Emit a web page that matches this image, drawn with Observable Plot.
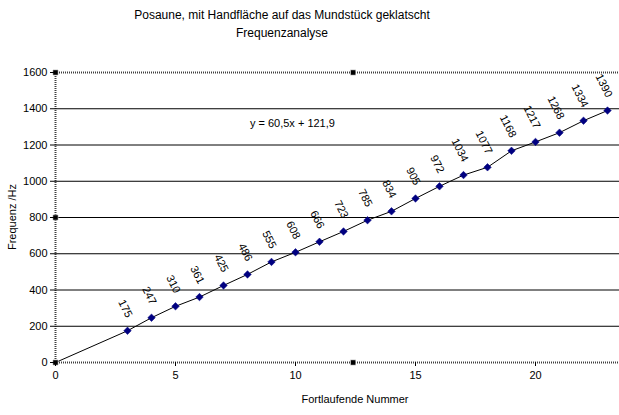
<!DOCTYPE html>
<html>
<head>
<meta charset="utf-8">
<script src="https://cdn.jsdelivr.net/npm/d3@7"></script>
<script src="https://cdn.jsdelivr.net/npm/@observablehq/plot@0.6"></script>
<style>
  html, body { margin: 0; padding: 0; background: #fff; }
  #wrap { position: relative; width: 619px; height: 415px; overflow: hidden; font-family: "Liberation Sans", Arial, sans-serif; color: #000; }
  #wrap svg { position: absolute; left: 0; top: 0; }
  .t { position: absolute; white-space: nowrap; font-size: 12px; }
</style>
</head>
<body>
<div id="wrap">
  <div class="t" id="title1" style="left:282px; top:8px; transform:translateX(-50%);">Posaune, mit Handfläche auf das Mundstück geklatscht</div>
  <div class="t" id="title2" style="left:282px; top:26px; transform:translateX(-50%);">Frequenzanalyse</div>
  <div class="t" id="xlab" style="left:355px; top:393px; transform:translateX(-50%); font-size:11px;">Fortlaufende Nummer</div>
  <div class="t" id="ylab" style="left:12px; top:217px; transform:translate(-50%,-50%) rotate(-90deg); font-size:11px;">Frequenz /Hz</div>
</div>
<script>
// Data
const nummer   = [3, 4, 5, 6, 7, 8, 9, 10, 11, 12, 13, 14, 15, 16, 17, 18, 19, 20, 21, 22, 23];
const frequenz = [175, 247, 310, 361, 425, 486, 555, 608, 666, 723, 785, 834, 905, 972, 1034, 1077, 1168, 1217, 1268, 1334, 1390];
const xTicks = [0, 5, 10, 15, 20];
const yTicks = [0, 200, 400, 600, 800, 1000, 1200, 1400, 1600];
const equation = "y = 60,5x + 121,9";
const equationPos = {x: 8.1, y: 1318};
const origin = {nummer: 0, frequenz: 0};

const points = nummer.map((n, i) => ({nummer: n, frequenz: frequenz[i]}));
const linePts = [origin, ...points];
const gridLines = yTicks.filter(v => v !== 0 && v !== 1600);
const borderLines = [yTicks[0], yTicks[yTicks.length - 1]];
const handles = [
  {nummer: 0, frequenz: 0}, {nummer: 0, frequenz: 800}, {nummer: 0, frequenz: 1600},
  {nummer: 12.4, frequenz: 0}, {nummer: 12.4, frequenz: 1600}
];

const chart = Plot.plot({
  width: 619,
  height: 415,
  marginTop: 72,
  marginBottom: 53,
  marginLeft: 55,
  marginRight: 0,
  style: {fontFamily: '"Liberation Sans", Arial, sans-serif', fontSize: "11px", background: "transparent", color: "#000"},
  x: {domain: [0, 23.5], ticks: xTicks, tickSize: 4, tickPadding: 5, label: null},
  y: {domain: [0, 1600], ticks: yTicks, tickSize: 5, tickPadding: 3, label: null},
  marks: [
    Plot.ruleY(gridLines, {stroke: "#000", strokeWidth: 1}),
    Plot.ruleY(borderLines, {stroke: "#000", strokeWidth: 2, strokeDasharray: "1,1", strokeOpacity: 0.75}),
    Plot.ruleX([0], {stroke: "#000", strokeWidth: 2, strokeDasharray: "1,1", strokeOpacity: 0.75}),
    Plot.line(linePts, {x: "nummer", y: "frequenz", stroke: "#000", strokeWidth: 1}),
    Plot.dot(points, {x: "nummer", y: "frequenz", symbol: "diamond2", r: 3.4, fill: "#000080", stroke: "#000080", strokeWidth: 0.5}),
    Plot.text(points, {x: "nummer", y: "frequenz", text: d => String(d.frequenz), rotate: 63, textAnchor: "end", dx: 2, dy: -14, fontSize: 11, fill: "#000"}),
    Plot.text([equationPos], {x: "x", y: "y", text: () => equation, textAnchor: "start", fontSize: 11, fill: "#000"}),
    Plot.dot(handles, {x: "nummer", y: "frequenz", symbol: "square", r: 3, fill: "#000", stroke: "#fff", strokeWidth: 0.5}),
    Plot.axisX({ticks: xTicks, tickSize: 4, tickPadding: 5, tickFormat: d => String(d), label: null}),
    Plot.axisY({ticks: yTicks, tickSize: 5, tickPadding: 3, tickFormat: d => String(d), label: null})
  ]
});
document.getElementById("wrap").prepend(chart);
</script>
</body>
</html>
